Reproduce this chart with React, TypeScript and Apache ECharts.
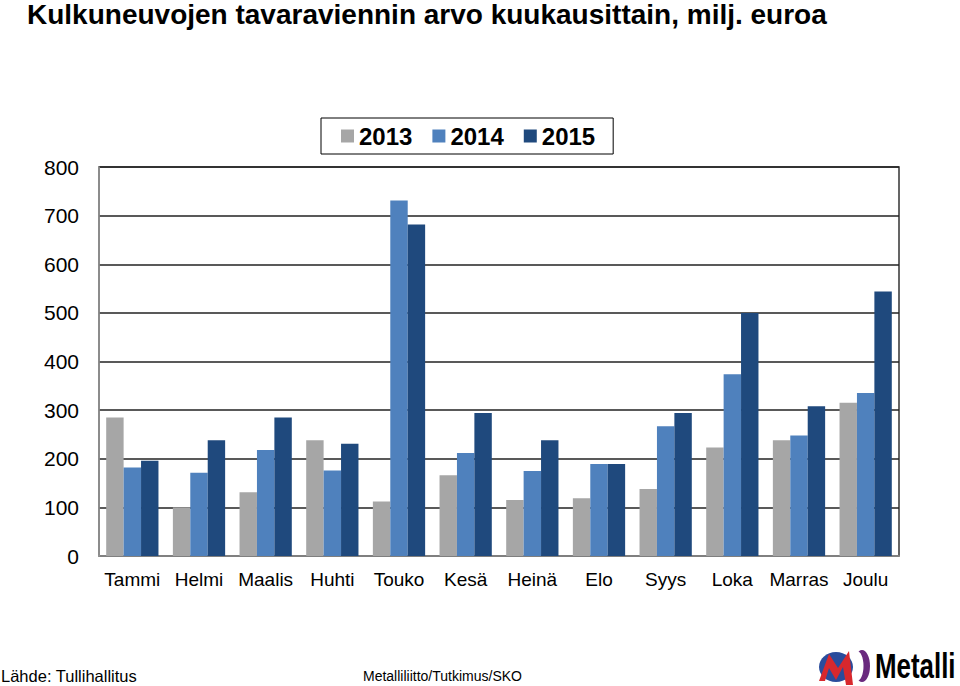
import React, { useEffect, useRef } from "react";
import * as echarts from "echarts";

const months = ["Tammi", "Helmi", "Maalis", "Huhti", "Touko", "Kesä", "Heinä", "Elo", "Syys", "Loka", "Marras", "Joulu"];
const v2013 = [285, 100, 131, 238, 112, 166, 115, 119, 138, 223, 238, 315];
const v2014 = [182, 171, 218, 176, 731, 212, 175, 189, 267, 374, 248, 335];
const v2015 = [196, 238, 285, 231, 682, 294, 238, 189, 294, 500, 308, 544];
const seriesNames = ["2013", "2014", "2015"];
const seriesColors = ["#A6A6A6", "#4F81BD", "#1F497D"];

const title = "Kulkuneuvojen tavaraviennin arvo kuukausittain, milj. euroa";
const source = "Lähde: Tullihallitus";
const credit = "Metalliliitto/Tutkimus/SKO";

export default function App() {
  const ref = useRef<HTMLDivElement>(null);
  useEffect(() => {
    if (!ref.current) return;
    const chart = echarts.init(ref.current, null, { renderer: "svg" });
    const font = "'Liberation Sans', Arial, sans-serif";
    const data = [v2013, v2014, v2015];
    chart.setOption({
      animation: false,
      backgroundColor: "#ffffff",
      textStyle: { fontFamily: font },
      grid: {
        left: 99,
        right: 61,
        top: 167,
        bottom: 130,
        show: true,
        borderColor: "#333333",
        borderWidth: 1.5,
        backgroundColor: "transparent",
      },
      legend: {
        data: seriesNames,
        left: 321,
        top: 118,
        icon: "rect",
        itemWidth: 13,
        itemHeight: 13,
        itemGap: 20,
        padding: [6, 18, 6, 20],
        borderColor: "#000000",
        borderWidth: 1,
        textStyle: { fontSize: 24, fontWeight: "bold", color: "#000000", fontFamily: font },
      },
      xAxis: {
        type: "category",
        data: months,
        axisLine: { show: true, lineStyle: { color: "#9a9a9a", width: 1.5 } },
        axisTick: { show: false },
        axisLabel: { fontSize: 19, color: "#000000", margin: 14, interval: 0, fontFamily: font },
        splitLine: { show: false },
      },
      yAxis: {
        type: "value",
        min: 0,
        max: 800,
        interval: 100,
        axisLine: { show: true, lineStyle: { color: "#9a9a9a", width: 1.5 } },
        axisTick: { show: false },
        axisLabel: { fontSize: 21, color: "#000000", margin: 20, fontFamily: font },
        splitLine: { show: true, lineStyle: { color: "#222222", width: 1.5 } },
      },
      series: seriesNames.map((n, i) => ({
        name: n,
        type: "bar",
        data: data[i],
        itemStyle: { color: seriesColors[i] },
        barGap: "0%",
        barCategoryGap: "21.6%",
      })),
      graphic: [
        {
          type: "text",
          x: 27,
          y: 14,
          style: { text: title, font: `bold 28px ${font}`, fill: "#000000", verticalAlign: "middle" },
        },
        {
          type: "text",
          x: 1,
          y: 676,
          style: { text: source, font: `16.5px ${font}`, fill: "#000000", verticalAlign: "middle" },
        },
        {
          type: "text",
          x: 363,
          y: 676,
          style: { text: credit, font: `14px ${font}`, fill: "#000000", verticalAlign: "middle" },
        },
        // logo
        {
          type: "ellipse",
          shape: { cx: 862, cy: 666, rx: 8, ry: 16 },
          style: { fill: "#6a2a7e" },
        },
        {
          type: "ellipse",
          shape: { cx: 857, cy: 666, rx: 6.5, ry: 15 },
          style: { fill: "#ffffff" },
        },
        {
          type: "ellipse",
          shape: { cx: 836, cy: 667, rx: 17, ry: 15 },
          style: { fill: "#2a4c9c" },
        },
        {
          type: "polygon",
          shape: {
            points: [
              [819, 681],
              [829, 654],
              [838, 668],
              [849, 651],
              [853, 685],
              [846, 685],
              [843, 667],
              [836, 680],
              [829, 668],
              [825, 681],
            ],
          },
          style: { fill: "#d8282d" },
        },
        {
          type: "text",
          x: 875,
          y: 666,
          scaleX: 0.74,
          style: { text: "Metalli", font: `bold 35px ${font}`, fill: "#000000", verticalAlign: "middle" },
        },
      ],
    });
    return () => chart.dispose();
  }, []);
  return <div ref={ref} style={{ width: 960, height: 686, position: "absolute", left: 0, top: 0 }} />;
}
